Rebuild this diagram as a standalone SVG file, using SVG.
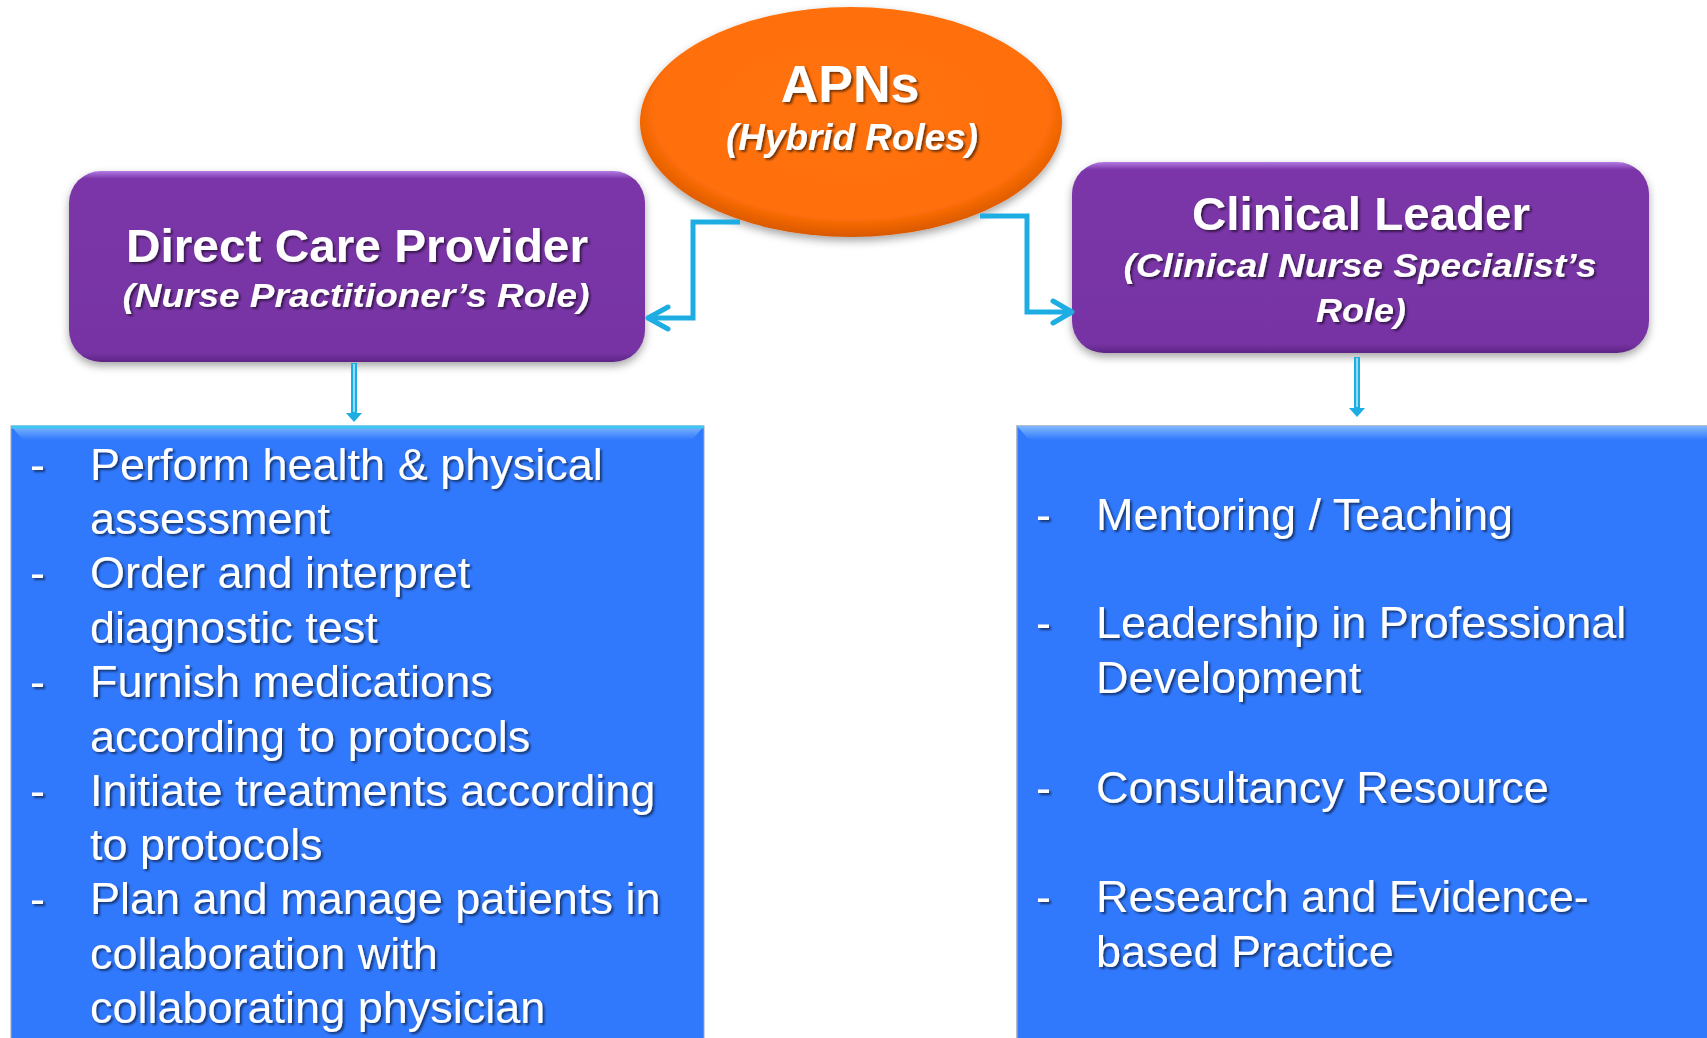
<svg xmlns="http://www.w3.org/2000/svg" width="1707" height="1038" viewBox="0 0 1707 1038">
<defs>
<style>
.t{font-family:"Liberation Sans",Arial,sans-serif;fill:#fff;filter:url(#ts)}
.title{font-weight:bold;font-size:47px}
.sub{font-weight:bold;font-style:italic;font-size:34px}
.body{font-size:45px}
.conn{fill:none;stroke:#1EADE3;stroke-width:5;stroke-linejoin:miter}
.head{fill:none;stroke:#1EADE3;stroke-width:5;stroke-linecap:round;stroke-linejoin:round}
</style>
<filter id="ts" x="-5%" y="-20%" width="110%" height="150%">
<feDropShadow dx="2" dy="2" stdDeviation="1.2" flood-color="#000" flood-opacity="0.55"/>
</filter>
<filter id="bs" x="-5%" y="-10%" width="110%" height="130%">
<feDropShadow dx="0" dy="4" stdDeviation="4" flood-color="#000" flood-opacity="0.35"/>
</filter>
<linearGradient id="pg" x1="0" y1="0" x2="0" y2="1">
<stop offset="0" stop-color="#B47BE6"/>
<stop offset="0.04" stop-color="#7B36A8"/>
<stop offset="0.95" stop-color="#7733A4"/>
<stop offset="1" stop-color="#5E2585"/>
</linearGradient>
<radialGradient id="og" cx="0.5" cy="0.45" r="0.55">
<stop offset="0" stop-color="#FF7308"/>
<stop offset="0.85" stop-color="#FF6F08"/>
<stop offset="1" stop-color="#D85800"/>
</radialGradient>
<linearGradient id="bg" x1="0" y1="0" x2="0" y2="1">
<stop offset="0" stop-color="#7FB8FF"/>
<stop offset="1" stop-color="#3078FC"/>
</linearGradient>
</defs>
<rect width="1707" height="1038" fill="#fff"/>

<g id="apns">
<ellipse cx="851" cy="122" rx="211" ry="115" fill="url(#og)" filter="url(#bs)"/>
<text class="t title" x="850" y="102" text-anchor="middle" style="font-size:52px">APNs</text>
<text class="t sub" x="852" y="150" text-anchor="middle" style="font-size:36px" textLength="252" lengthAdjust="spacingAndGlyphs">(Hybrid Roles)</text>
</g>

<g id="direct-care">
<rect x="69" y="171" width="576" height="191" rx="32" fill="url(#pg)" filter="url(#bs)"/>
<text class="t title" x="357" y="262" text-anchor="middle" textLength="462" lengthAdjust="spacingAndGlyphs">Direct Care Provider</text>
<text class="t sub" x="356" y="307" text-anchor="middle" textLength="467" lengthAdjust="spacingAndGlyphs">(Nurse Practitioner’s Role)</text>
</g>

<g id="clinical-leader">
<rect x="1072" y="162" width="577" height="191" rx="32" fill="url(#pg)" filter="url(#bs)"/>
<text class="t title" x="1361" y="230" text-anchor="middle" textLength="338" lengthAdjust="spacingAndGlyphs">Clinical Leader</text>
<text class="t sub" x="1360" y="277" text-anchor="middle" textLength="473" lengthAdjust="spacingAndGlyphs">(Clinical Nurse Specialist’s</text>
<text class="t sub" x="1361" y="322" text-anchor="middle" textLength="90" lengthAdjust="spacingAndGlyphs">Role)</text>
</g>

<g id="np-tasks">
<rect x="11" y="426" width="693" height="620" fill="#3078FC" stroke="#9AA7B8" stroke-width="1"/>
<polygon points="11,426 704,426 692,440 23,440" fill="url(#bg)"/>
<line x1="11" y1="427" x2="704" y2="427" stroke="#3FC6F2" stroke-width="3"/>
<g class="t body">
<text x="30" y="480">-</text><text x="90" y="480">Perform health &amp; physical</text>
<text x="90" y="534">assessment</text>
<text x="30" y="588">-</text><text x="90" y="588">Order and interpret</text>
<text x="90" y="643">diagnostic test</text>
<text x="30" y="697">-</text><text x="90" y="697">Furnish medications</text>
<text x="90" y="752">according to protocols</text>
<text x="30" y="806">-</text><text x="90" y="806">Initiate treatments according</text>
<text x="90" y="860">to protocols</text>
<text x="30" y="914">-</text><text x="90" y="914">Plan and manage patients in</text>
<text x="90" y="969">collaboration with</text>
<text x="90" y="1023">collaborating physician</text>
</g>
</g>

<g id="cns-tasks">
<rect x="1017" y="426" width="700" height="620" fill="#3078FC" stroke="#9AA7B8" stroke-width="1.5"/>
<polygon points="1017,426 1717,426 1705,440 1029,440" fill="url(#bg)"/>
<g class="t body">
<text x="1036" y="530">-</text><text x="1096" y="530">Mentoring / Teaching</text>
<text x="1036" y="638">-</text><text x="1096" y="638">Leadership in Professional</text>
<text x="1096" y="693">Development</text>
<text x="1036" y="803">-</text><text x="1096" y="803">Consultancy Resource</text>
<text x="1036" y="912">-</text><text x="1096" y="912">Research and Evidence-</text>
<text x="1096" y="967">based Practice</text>
</g>
</g>

<g id="connectors">
<polyline class="conn" points="740,222 693,222 693,318 649,318"/>
<polyline class="head" points="668,307 648,318 668,329"/>
<polyline class="conn" points="980,216 1027,216 1027,312 1071,312"/>
<polyline class="head" points="1053,301 1072,312 1053,323"/>
<line x1="354" y1="363" x2="354" y2="414" stroke="#1EADE3" stroke-width="6"/>
<line x1="354" y1="364" x2="354" y2="412" stroke="#8FDDF7" stroke-width="2"/>
<polygon points="346,413 362,413 354,422" fill="#1EADE3"/>
<line x1="1357" y1="357" x2="1357" y2="409" stroke="#1EADE3" stroke-width="6"/>
<line x1="1357" y1="358" x2="1357" y2="407" stroke="#8FDDF7" stroke-width="2"/>
<polygon points="1349,408 1365,408 1357,417" fill="#1EADE3"/>
</g>
</svg>
